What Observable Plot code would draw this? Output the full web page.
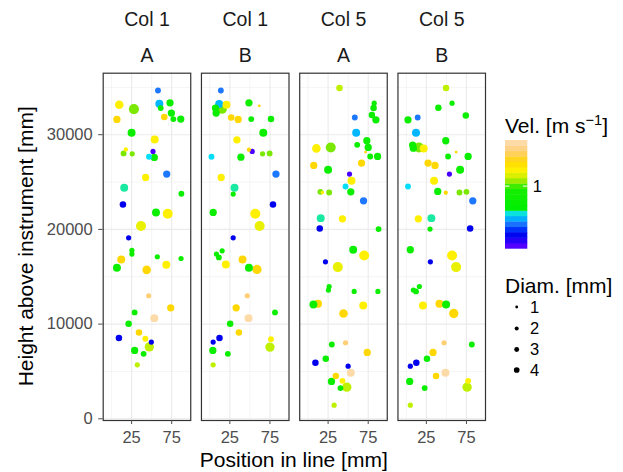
<!DOCTYPE html>
<html><head><meta charset="utf-8">
<script src="https://cdn.jsdelivr.net/npm/d3@7"></script>
<script src="https://cdn.jsdelivr.net/npm/@observablehq/plot@0.6"></script>
<style>
body{margin:0;background:#fff;}
#wrap{position:relative;width:623px;height:472px;font-family:"Liberation Sans",Arial,Helvetica,sans-serif;}
#wrap svg{position:absolute;left:0;top:0;}
</style>
</head><body><div id="wrap"></div>
<script>
// Facet labels
const facetCols = ["Col 1", "Col 1", "Col 5", "Col 5"];
const facetRows = ["A", "B", "A", "B"];
const xTicks = [25, 75];
const yTicks = [0, 10000, 20000, 30000];
const sizeBreaks = [1, 2, 3, 4];
const colorBreaks = [1];

// Col 1 / A
const c1A_x = [57.9,9.6,27.9,59.6,72.9,61.3,6.7,65.8,74.6,77.1,86.3,25,53.8,17.9,15,25.8,51.7,46.7,53.3,68.8,42.5,15.8,87.1,14.2,55.4,70,36.7,21.3,25.4,25.4,57.1,86.7,12.1,6.7,68.3,43.8,46.3,73.8,28.8,53.3,21.3,9.2,34.2,42.1,49.6,47.1,28.8,40,32.1];
const c1A_y = [34670,33160,32700,33260,33370,32810,31610,31860,32280,31650,31650,30200,29500,28440,28020,27980,28230,27670,27600,25840,25490,24390,23760,22630,21790,21650,20350,19110,17780,17390,17110,16930,16830,15950,16260,15730,12990,11720,11230,10630,10030,8520,9120,8450,8100,7600,7220,6860,5700];
const c1A_vel = [0.38,1.5,1.07,0.44,0.72,0.72,1.9,1.9,0.72,0.72,0.72,0.72,1.5,1.5,1.07,1.07,0.22,0.48,0.72,0.38,1.5,0.53,0.72,0.28,0.72,1.5,1.38,0.28,0.72,0.72,0.72,0.72,1.9,0.72,1.5,1.9,2.5,1.9,0.72,3.1,0.72,0.28,1.9,1.5,0.28,1.24,0.72,0.72,1.24];
const c1A_diam = [4.2,9.1,12.3,7.8,6.5,4.2,6.5,5.2,6.5,4.2,6.5,7.8,7.8,2.3,4.2,3.3,3.3,4.2,6.5,6.5,6.5,7.8,4.2,5.2,7.8,12.3,12.3,3.3,3.3,3.3,3.3,3.3,7.8,7.8,7.8,9.1,3.3,6.5,4.2,7.8,5.2,5.2,5.2,4.2,3.3,10.7,6.5,4.2,3.3];

// Col 1 / B
const c1B_x = [13.8,11.7,20.8,15.4,7.1,7.9,48.8,61.7,26.7,35.4,51.7,76.3,66.7,33.8,48.8,52.9,65.8,74.6,2.1,38.8,82.5,14.2,30.8,29.2,78.8,4.2,56.7,62.1,29.2,15.4,8.3,11.3,40.8,20,48.8,58.8,46.7,32.9,81.3,48.3,25.4,36.3,12.1,4.2,76.3,75,3.8,22.5,4.2];
const c1B_y = [34670,33230,33160,32700,32810,32280,33370,33050,31820,31610,31650,31650,30200,29460,28410,28230,27980,28020,27670,27630,25840,25490,24390,23730,22630,21790,21650,20350,19110,17740,17390,17040,16830,16300,15950,15770,12990,11720,11230,10630,10030,9120,8520,8100,8410,7570,7220,6860,5700];
const c1B_vel = [0.38,0.44,1.5,1.07,0.72,0.72,0.8,1.9,1.9,1.9,0.72,0.72,0.72,1.5,1.9,0.22,1.07,1.07,0.48,0.72,0.38,1.5,0.53,0.72,0.28,0.72,1.5,1.38,0.28,0.72,0.72,0.72,1.9,1.5,0.72,1.9,2.5,1.9,0.72,3.1,0.72,1.9,0.28,0.28,1.5,1.24,0.72,0.72,1.24];
const c1B_diam = [4.2,7.8,7.8,10.7,6.5,6.5,6.5,1.0,5.2,6.5,4.2,5.2,7.8,6.5,2.3,3.3,3.3,4.2,4.2,6.5,6.5,6.5,7.8,3.3,5.2,6.5,12.3,12.3,3.3,3.3,3.3,4.2,7.8,7.8,7.8,10.7,3.3,6.5,4.2,7.8,5.2,5.2,5.2,3.3,4.2,10.7,6.5,4.2,3.3];

// Col 5 / A
const c5A_x = [39.2,82.5,81.7,58.3,79.6,84.6,60,73.3,10.4,28.3,61.3,75,71.7,77.5,86.7,7.1,66.7,25,51.7,54.2,46.7,53.3,17.9,15.4,26.3,69.2,15.8,42.9,14.6,87.9,56.3,70,21.7,37.1,26.3,25.4,57.5,87.1,12.5,6.7,68.8,44.2,46.7,29.6,73.8,22.1,9.2,50,53.3,34.6,42.9,29.2,48.3,40.4,32.5];
const c5A_y = [34920,33330,32810,31820,32070,31570,30200,29360,28550,28650,28930,28650,28160,27700,27700,26750,27000,26290,25840,25130,24530,23970,23900,23970,23900,23020,21190,21120,20100,20030,17850,17250,16580,16020,13970,13590,13450,13450,12140,12070,11970,11120,8030,7850,7010,6340,5910,5560,4860,4510,4010,3940,3340,3240,1440];
const c5A_vel = [1.24,0.72,0.72,0.38,0.72,0.72,0.44,0.72,1.5,1.07,0.72,0.72,1.9,0.72,0.72,1.9,1.9,0.72,0.22,1.5,0.48,0.72,1.5,1.07,1.07,0.38,0.53,1.5,0.28,0.72,0.72,1.5,0.28,1.38,0.72,0.72,0.72,0.72,1.9,0.72,1.5,1.9,2.5,0.72,1.9,0.72,0.28,0.28,3.1,1.9,1.5,0.72,1.24,0.72,1.24];
const c5A_diam = [5.2,3.3,5.2,4.2,5.2,6.5,7.8,6.5,9.1,12.3,4.2,6.5,1.0,4.2,6.5,6.5,6.5,7.8,3.3,7.8,4.2,6.5,1.6,4.2,4.2,6.5,7.8,6.5,5.2,4.2,7.8,12.3,3.3,12.3,3.3,3.3,3.3,3.3,7.8,7.8,7.8,9.1,3.3,4.2,6.5,5.2,5.2,3.3,7.8,5.2,4.2,6.5,10.7,4.2,3.3];

// Col 5 / B
const c5B_x = [49.6,57.1,40,14.2,2.1,74.2,12.1,49.2,7.9,8.8,15.8,21.7,62.1,52.1,77.1,27.1,35.8,67.1,53.8,34.6,2.1,39.2,49.2,66.3,75,82.9,15,31.3,29.6,79.6,5,57.1,30,62.1,16.3,8.8,12.1,20.8,41.3,49.6,59.2,47.1,81.7,33.3,25.8,12.5,5,48.8,37.1,77.1,4.2,75.8,22.9,5];
const c5B_y = [34920,33330,32840,31820,31570,32030,30200,29360,28900,28580,28650,28550,28160,27700,27700,27000,26750,26290,25840,25130,24530,24010,23870,23900,23970,23020,21120,21190,20030,20100,17850,17250,16580,16020,13970,13590,13450,11970,12140,12070,11120,8030,7850,7010,6340,5910,5560,4860,4510,4010,3940,3340,3240,1440];
const c5B_vel = [1.24,0.72,0.72,0.38,0.72,0.72,0.44,0.72,0.72,0.72,1.07,1.5,1.9,0.72,0.72,1.9,1.9,0.72,0.22,1.5,0.48,0.72,1.9,1.07,1.07,0.38,1.5,0.53,0.72,0.28,0.72,1.5,0.28,1.38,0.72,0.72,0.72,1.5,1.9,0.72,1.9,2.5,0.72,1.9,0.72,0.28,0.28,3.1,1.9,1.5,0.72,1.24,0.72,1.24];
const c5B_diam = [5.2,3.3,5.2,4.2,6.5,5.2,7.8,6.5,6.5,6.5,12.3,7.8,1.0,4.2,6.5,6.5,6.5,7.8,3.3,7.8,4.2,6.5,2.3,4.2,4.2,6.5,6.5,7.8,3.3,5.2,6.5,12.3,3.3,12.3,3.3,3.3,4.2,7.8,7.8,7.8,10.7,3.3,4.2,6.5,5.2,5.2,3.3,7.8,5.2,4.2,6.5,10.7,4.2,3.3];

// Build the table
const keys = facetCols.map((c, i) => c + "|" + facetRows[i]);
const panelArrays = [
  [c1A_x, c1A_y, c1A_vel, c1A_diam],
  [c1B_x, c1B_y, c1B_vel, c1B_diam],
  [c5A_x, c5A_y, c5A_vel, c5A_diam],
  [c5B_x, c5B_y, c5B_vel, c5B_diam]
];
const rows = [];
panelArrays.forEach(([xs, ys, vs, ds], i) => {
  xs.forEach((x, j) => rows.push({panel: keys[i], x, y: ys[j], vel: vs[j], diam: ds[j]}));
});

// Colour ramp (blue -> cyan -> green -> yellow -> peach)
const stops = [
  [0, "#6A00FF"], [0.05, "#3A00FF"], [0.12, "#0000EE"], [0.19, "#0040FF"],
  [0.23, "#1E78FF"], [0.28, "#00B4FF"], [0.31, "#00DCFF"], [0.345, "#1CE8B0"],
  [0.375, "#00EE00"], [0.56, "#18EE00"], [0.597, "#78E800"], [0.65, "#BEF000"],
  [0.688, "#E8F000"], [0.72, "#FFF000"], [0.80, "#FFD800"], [0.90, "#FFCF75"], [1, "#FDDEB8"]
];
function ramp(t) {
  t = Math.max(0, Math.min(1, t));
  for (let i = 1; i < stops.length; i++) {
    if (t <= stops[i][0]) {
      const [t0, c0] = stops[i - 1], [t1, c1] = stops[i];
      return d3.interpolateRgb(c0, c1)((t - t0) / (t1 - t0));
    }
  }
  return stops[stops.length - 1][1];
}
const velDomain = [0.2, 3.3];

const font = "Liberation Sans, Arial, Helvetica, sans-serif";
const plot = Plot.plot({
  width: 623, height: 472,
  marginLeft: 102.7, marginRight: 138, marginTop: 72.7, marginBottom: 52,
  style: {fontFamily: font, background: "#fff"},
  fx: {domain: keys, paddingInner: 0.109, paddingOuter: 0, round: false, axis: null},
  x: {domain: [-10.4, 98.75], axis: null},
  y: {domain: [-180, 36494], axis: null},
  color: {type: "log", domain: velDomain, interpolate: ramp},
  r: {type: "sqrt", domain: [0, 14], range: [0, 5.34]},
  marks: [
    Plot.gridX([0, 50], {stroke: "#EBEBEB", strokeOpacity: 1, strokeWidth: 0.55}),
    Plot.gridY([5000, 15000, 25000, 35000], {stroke: "#EBEBEB", strokeOpacity: 1, strokeWidth: 0.55}),
    Plot.gridX(xTicks, {stroke: "#EBEBEB", strokeOpacity: 1, strokeWidth: 1.1}),
    Plot.gridY(yTicks, {stroke: "#EBEBEB", strokeOpacity: 1, strokeWidth: 1.1}),
    Plot.dot(rows, {fx: "panel", x: "x", y: "y", fill: "vel", r: "diam", stroke: null}),
    Plot.frame({stroke: "#333333", strokeWidth: 1.2}),
    Plot.axisX(xTicks, {tickSize: 4, tickPadding: 7, fontSize: 16.5, color: "#4D4D4D", label: null}),
    Plot.axisY(yTicks, {tickSize: 4.5, tickPadding: 6, fontSize: 16.5, color: "#4D4D4D", label: null, tickFormat: d => String(d)}),
    Plot.text(keys, {fx: d => d, text: d => d.split("|")[0], frameAnchor: "top", lineAnchor: "bottom", dy: -47, fontSize: 19.5, fill: "#1A1A1A"}),
    Plot.text(keys, {fx: d => d, text: d => d.split("|")[1], frameAnchor: "top", lineAnchor: "bottom", dy: -11.2, fontSize: 19.5, fill: "#1A1A1A"})
  ]
});
document.getElementById("wrap").appendChild(plot);

// Overlay: axis titles and legends
const cs = plot.scale("color");
const rs = plot.scale("r");
const svg = d3.select("#wrap").append("svg")
  .attr("width", 623).attr("height", 472)
  .style("pointer-events", "none")
  .style("font-family", font);

svg.append("text").attr("x", 293.8).attr("y", 467).attr("text-anchor", "middle")
  .attr("font-size", 21).attr("fill", "#000").text("Position in line [mm]");
svg.append("text").attr("transform", "translate(33,246.3) rotate(-90)").attr("text-anchor", "middle")
  .attr("font-size", 21).attr("fill", "#000").text("Height above instrument [mm]");

// Colour legend
const vt = svg.append("text").attr("x", 505).attr("y", 133).attr("font-size", 21).attr("fill", "#000");
vt.append("tspan").text("Vel. [m s");
vt.append("tspan").attr("dy", -8).attr("font-size", 14.7).text("\u22121");
vt.append("tspan").attr("dy", 8).text("]");

const barX = 505, barW = 22.3, barTop = 140, barH = 108.3, nbin = 20;
const lmin = Math.log(velDomain[0]), lmax = Math.log(velDomain[1]);
for (let i = 0; i < nbin; i++) {
  const t = (i + 0.5) / nbin;
  const v = Math.exp(lmin + t * (lmax - lmin));
  svg.append("rect").attr("x", barX).attr("width", barW)
    .attr("y", barTop + barH - (i + 1) * barH / nbin).attr("height", barH / nbin + 0.4)
    .attr("fill", cs.apply(v));
}
colorBreaks.forEach(b => {
  const t = (Math.log(b) - lmin) / (lmax - lmin);
  const yy = barTop + barH - t * barH;
  svg.append("line").attr("x1", barX).attr("x2", barX + 4.4).attr("y1", yy).attr("y2", yy).attr("stroke", "#fff").attr("stroke-width", 1);
  svg.append("line").attr("x1", barX + barW - 4.4).attr("x2", barX + barW).attr("y1", yy).attr("y2", yy).attr("stroke", "#fff").attr("stroke-width", 1);
  svg.append("text").attr("x", barX + barW + 5.5).attr("y", yy).attr("dy", "0.35em")
    .attr("font-size", 16.5).attr("fill", "#000").text(String(b));
});

// Size legend
svg.append("text").attr("x", 505).attr("y", 293.3).attr("font-size", 21).attr("fill", "#000").text("Diam. [mm]");
const sizeY = [307, 328.5, 349.5, 370];
sizeBreaks.forEach((b, i) => {
  svg.append("circle").attr("cx", 516.7).attr("cy", sizeY[i]).attr("r", rs.apply(b)).attr("fill", "#000");
  svg.append("text").attr("x", 530).attr("y", sizeY[i]).attr("dy", "0.35em")
    .attr("font-size", 16.5).attr("fill", "#000").text(String(b));
});
</script>
</body></html>
